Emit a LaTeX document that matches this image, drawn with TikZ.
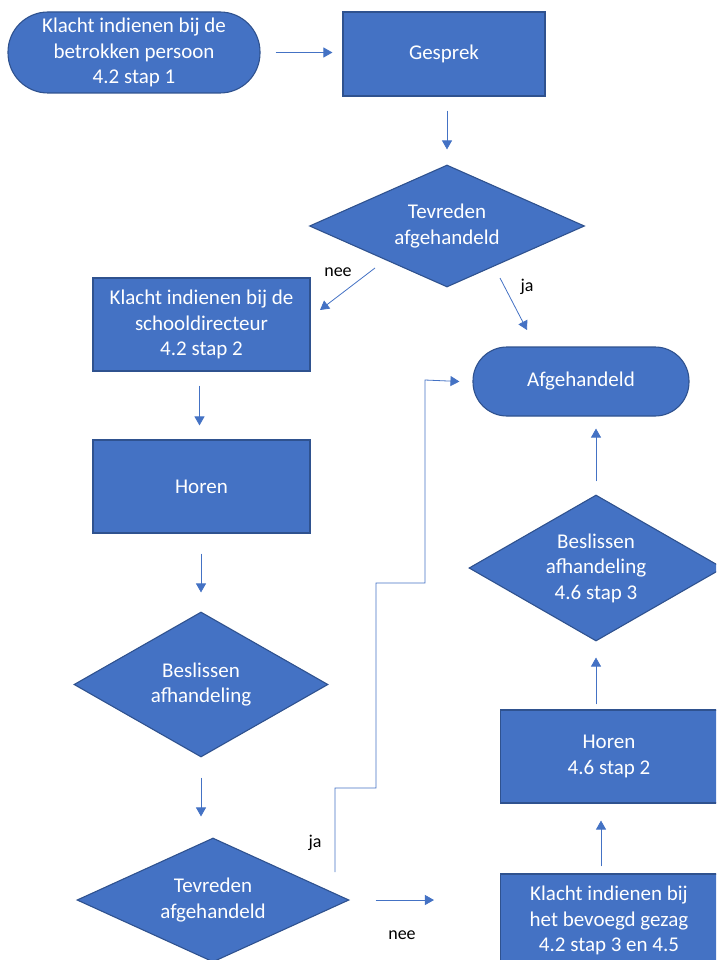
\documentclass[tikz,border=0pt]{standalone}
\usepackage{fontspec}
\setmainfont{Carlito}
\usetikzlibrary{shapes.geometric,arrows.meta}
\definecolor{vlak}{HTML}{4472C4}
\definecolor{rand}{HTML}{2F528F}
\tikzset{
  basis/.style={fill=vlak, draw=rand, line width=1.1pt, text=white, align=center,
    inner sep=0pt, font=\fontsize{21}{25.6}\selectfont},
  blok/.style={basis, rectangle, minimum width=217pt, minimum height=93pt},
  eindpunt/.style={basis, rectangle, rounded corners=#1},
  keuze/.style={basis, diamond},
  pijl/.style={draw=vlak, line width=0.8pt, -{Triangle[length=9pt,width=10pt]}},
  tekst/.style={font=\fontsize{18}{22}\selectfont, text=black}
}
\begin{document}
\begin{tikzpicture}[x=1pt,y=-1pt]
\useasboundingbox (0,0) rectangle (716,960);
\clip (0,0) rectangle (716,960);
% vormen
\node[eindpunt=40pt, minimum width=252pt, minimum height=81pt] (start) at (134,52.5) {Klacht indienen bij de\\betrokken persoon\\4.2 stap 1};
\node[blok, minimum width=202pt, minimum height=84pt] (gesprek) at (444,54) {Gesprek};
\node[keuze, minimum width=275pt, minimum height=122pt, aspect=2.2] (tevreden1) at (447,226) {Tevreden\\afgehandeld};
\node[blok] (directeur) at (201.5,324.5) {Klacht indienen bij de\\schooldirecteur\\4.2 stap 2};
\node[blok] (horen1) at (201.5,486.5) {Horen};
\node[keuze, minimum width=254pt, minimum height=145pt, aspect=1.75] (beslis1) at (201,684.5) {Beslissen\\afhandeling};
\node[keuze, minimum width=272pt, minimum height=124pt, aspect=2.2] (tevreden2) at (213,900) {Tevreden\\afgehandeld};
\node[eindpunt=34pt, minimum width=216pt, minimum height=69pt] (klaar) at (581,381.5) {Afgehandeld};
\node[keuze, minimum width=254pt, minimum height=146pt, aspect=1.75] (beslis2) at (596,568) {Beslissen\\afhandeling\\4.6 stap 3};
\node[blok] (horen2) at (609,756.5) {Horen\\4.6 stap 2};
\node[blok] (gezag) at (609,920.5) {Klacht indienen bij\\het bevoegd gezag\\4.2 stap 3 en 4.5};
% hulppunten
\coordinate (nee1a) at (375,268); \coordinate (nee1b) at (320,310);
\coordinate (ja1a) at (500,278);  \coordinate (ja1b) at (527,330);
\coordinate (ja2a) at (335,872);
% pijlen
\draw[pijl, shorten <=15pt, shorten >=10pt] (start.east) -- (start.east -| gesprek.west);
\draw[pijl, shorten <=14pt, shorten >=15pt] (gesprek.south -| tevreden1.north) -- (tevreden1.north);
\draw[pijl] (nee1a) -- (nee1b);
\draw[pijl] (ja1a) -- (ja1b);
\draw[pijl, shorten <=14pt, shorten >=14pt] ([xshift=-2pt]directeur.south) -- ([xshift=-2pt]horen1.north);
\draw[pijl, shorten <=20pt, shorten >=19pt] (horen1.south -| beslis1.north) -- (beslis1.north);
\draw[pijl, shorten <=20pt, shorten >=21pt] (beslis1.south) -- (beslis1.south |- tevreden2.north);
\draw[pijl] (ja2a) -- (335,788) -- (376,788) -- (376,583) -- (425,583) -- (425,380) -- ([xshift=-13pt]klaar.west);
\draw[pijl, shorten <=26pt, shorten >=66pt] (tevreden2.east) -- (tevreden2.east -| gezag.west);
\draw[pijl, shorten <=7pt, shorten >=17pt] ([xshift=-8pt]gezag.north) -- ([xshift=-8pt]horen2.south);
\draw[pijl, shorten <=5pt, shorten >=16pt] (beslis2.south |- horen2.north) -- (beslis2.south);
\draw[pijl, shorten <=13pt, shorten >=12pt] (beslis2.north) -- (beslis2.north |- klaar.south);
% labels
\node[tekst] (lnee1) at (338,272) {nee};
\node[tekst] (lja1) at (527,287) {ja};
\node[tekst] (lja2) at (315,843) {ja};
\node[tekst] (lnee2) at (402,935) {nee};
\end{tikzpicture}
\end{document}
